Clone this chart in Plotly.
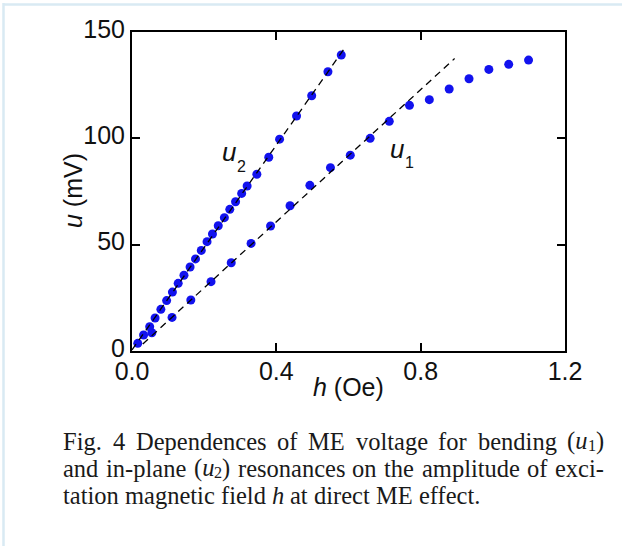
import re
import plotly.graph_objects as go

# ---------------- data ----------------
u1_h = [0.055, 0.111, 0.163, 0.219, 0.275, 0.330, 0.384, 0.438, 0.493, 0.550,
        0.605, 0.660, 0.713, 0.769, 0.824, 0.879, 0.934, 0.989, 1.044, 1.099]
u1_u = [8.6, 15.8, 24.0, 32.6, 41.5, 50.6, 58.8, 68.3, 77.9, 86.2,
        92.1, 100.0, 108.0, 115.5, 118.2, 123.2, 128.0, 132.4, 134.8, 136.8]

u2_h = [0.016, 0.032, 0.049, 0.064, 0.080, 0.096, 0.112, 0.128, 0.144, 0.161,
        0.176, 0.192, 0.208, 0.223, 0.239, 0.256, 0.271, 0.287, 0.304, 0.319,
        0.346, 0.379, 0.409, 0.456, 0.498, 0.543, 0.580]
u2_u = [3.6, 7.5, 11.4, 15.5, 19.6, 23.7, 27.7, 31.8, 35.6, 39.5,
        43.3, 47.3, 51.4, 55.0, 58.9, 62.7, 66.6, 70.2, 74.1, 77.6,
        83.1, 91.1, 99.6, 110.5, 120.0, 131.3, 139.2]

u1_fit_h = [0.03, 0.894]
u1_fit_u = [3.3, 137.5]
u2_fit_h = [0.0, 0.593]
u2_fit_u = [0.5, 143.3]

x_ticks = [0.0, 0.4, 0.8, 1.2]
x_tick_labels = ["0.0", "0.4", "0.8", "1.2"]
y_ticks = [0, 50, 100, 150]
y_tick_labels = ["0", "50", "100", "150"]

caption_lines = [
    ["Fig.", "4", "Dependences", "of", "ME", "voltage", "for", "bending",
     "(<i>u</i><sub>1</sub>)"],
    ["and", "in-plane", "(<i>u</i><sub>2</sub>)", "resonances", "on", "the",
     "amplitude", "of", "exci-"],
    ["tation", "magnetic", "field", "<i>h</i>", "at", "direct", "ME", "effect."],
]

# ---------------- layout geometry ----------------
W, H = 622, 546
L, R, T, B = 132, 565, 32, 351
PW, PH = R - L, B - T


def px_x(px):
    return (px - L) / PW


def px_y(py):
    return (B - py) / PH


BLUE = "#1212ee"
AX_FONT = "Liberation Sans"
CAP_FONT = "Liberation Serif"
TXT = "#111111"

fig = go.Figure()
fig.add_trace(go.Scatter(x=u1_h, y=u1_u, mode="markers",
                         marker=dict(color=BLUE, size=9, line=dict(width=0)),
                         showlegend=False))
fig.add_trace(go.Scatter(x=u2_h, y=u2_u, mode="markers",
                         marker=dict(color=BLUE, size=9, line=dict(width=0)),
                         showlegend=False))
for fx, fy in [(u1_fit_h, u1_fit_u), (u2_fit_h, u2_fit_u)]:
    fig.add_trace(go.Scatter(x=fx, y=fy, mode="lines",
                             line=dict(color="black", width=1.3, dash="7px,5px"),
                             showlegend=False))

axis_common = dict(showline=True, linewidth=2, linecolor="black", mirror="ticks",
                   ticks="inside", ticklen=8, tickwidth=1.6, tickcolor="black",
                   showgrid=False, zeroline=False,
                   tickfont=dict(family=AX_FONT, size=25, color=TXT))
fig.update_xaxes(range=[0, 1.2], tickvals=x_ticks, ticktext=x_tick_labels,
                 ticklabelstandoff=-3, **axis_common)
fig.update_yaxes(range=[0, 150], tickvals=y_ticks, ticktext=y_tick_labels,
                 ticklabelshift=-3, **axis_common)

ann = []
# axis titles
ann.append(dict(text="<i>h</i> (Oe)", x=px_x(348), y=px_y(387), xref="paper", yref="paper",
                showarrow=False, xanchor="center", yanchor="middle",
                font=dict(family=AX_FONT, size=25, color=TXT)))
ann.append(dict(text="<i>u</i> (mV)", x=px_x(73), y=px_y(191), xref="paper", yref="paper",
                showarrow=False, xanchor="center", yanchor="middle", textangle=-90,
                font=dict(family=AX_FONT, size=25, color=TXT)))
# series labels
for (ux, uy, sx, sy, sub) in [(229, 152, 241.5, 166, "2"), (397, 148.5, 409.5, 162.5, "1")]:
    ann.append(dict(text="<i>u</i>", x=px_x(ux), y=px_y(uy), xref="paper", yref="paper",
                    showarrow=False, xanchor="center", yanchor="middle",
                    font=dict(family=AX_FONT, size=26, color=TXT)))
    ann.append(dict(text=sub, x=px_x(sx), y=px_y(sy), xref="paper", yref="paper",
                    showarrow=False, xanchor="center", yanchor="middle",
                    font=dict(family=AX_FONT, size=16, color=TXT)))

# caption, justified like the reference
TNR = {'a': 444, 'b': 500, 'c': 444, 'd': 500, 'e': 444, 'f': 333, 'g': 500, 'h': 500,
       'i': 278, 'j': 278, 'k': 500, 'l': 278, 'm': 778, 'n': 500, 'o': 500, 'p': 500,
       'q': 500, 'r': 333, 's': 389, 't': 278, 'u': 500, 'v': 500, 'w': 722, 'x': 500,
       'y': 500, 'z': 444, 'F': 556, 'D': 722, 'M': 889, 'E': 611, '.': 250, '-': 333,
       '(': 333, ')': 333, ' ': 250}

CAP_SIZE = 24.5
SUB_SCALE = 0.66
SUB_DY = 4.5


def segments(word):
    """split a word into (html, is_sub) pieces"""
    out = []
    for part in re.split(r"(<sub>.*?</sub>)", word):
        if not part:
            continue
        if part.startswith("<sub>"):
            out.append((part[5:-6], True))
        else:
            out.append((part, False))
    return out


def seg_width(html, sub):
    plain = re.sub(r"<[^>]+>", "", html)
    size = CAP_SIZE * (SUB_SCALE if sub else 1.0)
    return sum(TNR.get(ch, 500) for ch in plain) * size / 1000.0


CAP_X0, CAP_X1 = 62, 603
CAP_Y = [441, 468, 495]
for li, words in enumerate(caption_lines):
    segs = [segments(wd) for wd in words]
    widths = [sum(seg_width(h, s) for h, s in sg) for sg in segs]
    if li < len(caption_lines) - 1:
        gap = (CAP_X1 - CAP_X0 - sum(widths)) / (len(words) - 1)
    else:
        gap = 0.25 * CAP_SIZE
    x = CAP_X0
    for sg, ww in zip(segs, widths):
        sx = x
        for h, s in sg:
            size = CAP_SIZE * (SUB_SCALE if s else 1.0)
            ann.append(dict(text=h, x=px_x(sx - 1), y=px_y(CAP_Y[li] + (SUB_DY if s else 0)),
                            xref="paper", yref="paper", showarrow=False,
                            xanchor="left", yanchor="middle",
                            font=dict(family=CAP_FONT, size=size, color="#1a1a1a")))
            sx += seg_width(h, s)
        x += ww + gap

# light-blue frame lines of the page
shapes = [
    dict(type="line", xref="paper", yref="paper", x0=px_x(3), x1=px_x(W), y0=px_y(4.5), y1=px_y(4.5),
         line=dict(color="#d9eaf3", width=2.5)),
    dict(type="line", xref="paper", yref="paper", x0=px_x(3.5), x1=px_x(3.5), y0=px_y(3), y1=px_y(H),
         line=dict(color="#d9eaf3", width=2.5)),
]

fig.update_layout(width=W, height=H, margin=dict(l=L, r=W - R, t=T, b=H - B),
                  paper_bgcolor="white", plot_bgcolor="white",
                  annotations=ann, shapes=shapes, showlegend=False)

fig.write_html("out.html")
